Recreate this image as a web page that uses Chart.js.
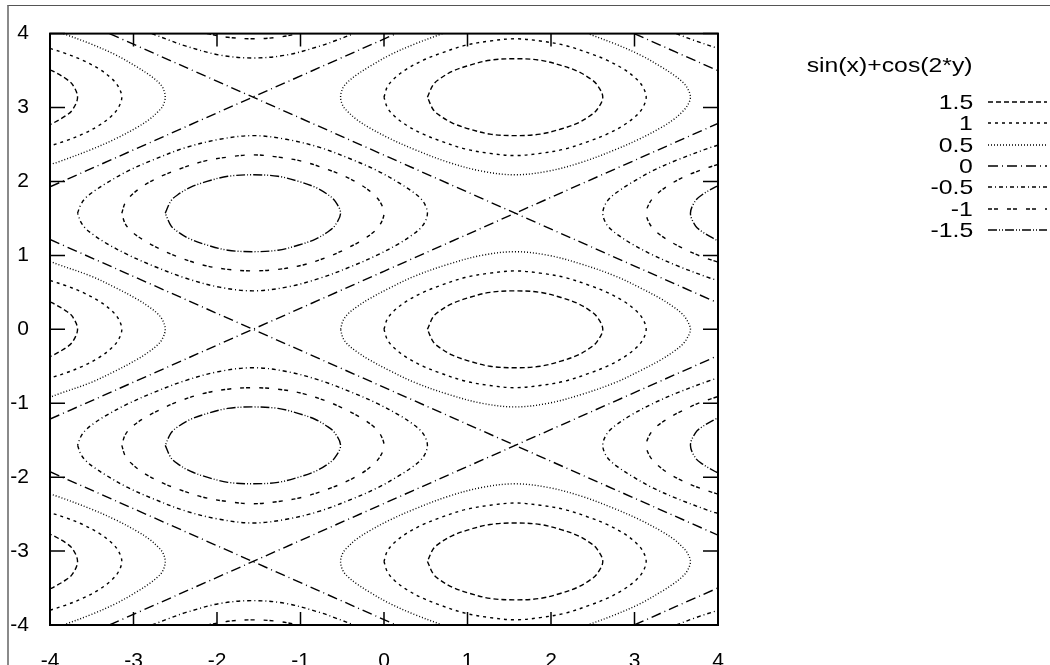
<!DOCTYPE html>
<html><head><meta charset="utf-8">
<script src="https://cdn.jsdelivr.net/npm/chart.js@4.4.1/dist/chart.umd.min.js"></script>
<style>
html,body{margin:0;padding:0;background:#fff;}
#wrap{position:relative;width:1050px;height:665px;overflow:hidden;}
#frame{position:absolute;left:7px;top:5px;right:-10px;bottom:-10px;border-left:2px solid #8a8a8a;border-top:1px solid #555;}
#c{position:absolute;left:0;top:0;}
.lg{position:absolute;right:77px;font-family:'Liberation Sans',Arial,sans-serif;font-size:21px;line-height:24px;height:24px;color:#000;white-space:nowrap;transform:scaleX(1.18);transform-origin:right center;}
svg.s{position:absolute;left:988px;width:60px;height:2px;overflow:visible;}
</style></head>
<body>
<div id="wrap">
<div id="frame"></div>
<canvas id="c" width="1050" height="665"></canvas>
<div id="legend"></div>
</div>
<script>
// ---- data ----
const legendTitle = 'sin(x)+cos(2*y)';
const levels = [1.5, 1, 0.5, 0, -0.5, -1, -1.5];
const xTicks = [-4, -3, -2, -1, 0, 1, 2, 3, 4];
const yTicks = [-4, -3, -2, -1, 0, 1, 2, 3, 4];

// contour pieces for each level, as [x, y] pairs
const c15 = [
 [[0.52,0],[0.59,0.17],[0.67,0.25],[0.82,0.35],[1.02,0.43],[1.27,0.5],[1.57,0.52],[1.87,0.5],[2.12,0.43],[2.32,0.35],[2.47,0.25],[2.55,0.17],[2.62,0],[2.55,-0.17],[2.47,-0.25],[2.32,-0.35],[2.12,-0.43],[1.87,-0.5],[1.57,-0.52],[1.27,-0.5],[1.02,-0.43],[0.82,-0.35],[0.67,-0.25],[0.59,-0.17],[0.52,0]],
 [[0.52,3.14],[0.59,3.31],[0.67,3.39],[0.82,3.49],[1.02,3.57],[1.27,3.64],[1.57,3.66],[1.87,3.64],[2.12,3.57],[2.32,3.49],[2.47,3.39],[2.55,3.31],[2.62,3.14],[2.55,2.97],[2.47,2.89],[2.32,2.79],[2.12,2.71],[1.87,2.64],[1.57,2.62],[1.27,2.64],[1.02,2.71],[0.82,2.79],[0.67,2.89],[0.59,2.97],[0.52,3.14]],
 [[0.52,-3.14],[0.59,-3.31],[0.67,-3.39],[0.82,-3.49],[1.02,-3.57],[1.27,-3.64],[1.57,-3.66],[1.87,-3.64],[2.12,-3.57],[2.32,-3.49],[2.47,-3.39],[2.55,-3.31],[2.62,-3.14],[2.55,-2.97],[2.47,-2.89],[2.32,-2.79],[2.12,-2.71],[1.87,-2.64],[1.57,-2.62],[1.27,-2.64],[1.02,-2.71],[0.82,-2.79],[0.67,-2.89],[0.59,-2.97],[0.52,-3.14]],
 [[-4,0.37],[-3.96,0.35],[-3.81,0.25],[-3.73,0.17],[-3.67,0],[-3.73,-0.17],[-3.81,-0.25],[-3.96,-0.35],[-4,-0.37]],
 [[-4,3.51],[-3.96,3.49],[-3.81,3.39],[-3.73,3.31],[-3.67,3.14],[-3.73,2.97],[-3.81,2.89],[-3.96,2.79],[-4,2.77]],
 [[-4,-3.51],[-3.96,-3.49],[-3.81,-3.39],[-3.73,-3.31],[-3.67,-3.14],[-3.73,-2.97],[-3.81,-2.89],[-3.96,-2.79],[-4,-2.77]]
];
const c10 = [
 [[0,0],[0.04,0.14],[0.12,0.25],[0.27,0.38],[0.47,0.5],[0.67,0.59],[0.97,0.7],[1.27,0.76],[1.57,0.79],[1.87,0.76],[2.17,0.7],[2.47,0.59],[2.67,0.5],[2.87,0.38],[3.02,0.25],[3.1,0.14],[3.14,0],[3.1,-0.14],[3.02,-0.25],[2.87,-0.38],[2.67,-0.5],[2.47,-0.59],[2.17,-0.7],[1.87,-0.76],[1.57,-0.79],[1.27,-0.76],[0.97,-0.7],[0.67,-0.59],[0.47,-0.5],[0.27,-0.38],[0.12,-0.25],[0.04,-0.14],[0,0]],
 [[0,3.14],[0.04,3.28],[0.12,3.39],[0.27,3.52],[0.47,3.64],[0.67,3.73],[0.97,3.84],[1.27,3.9],[1.57,3.93],[1.87,3.9],[2.17,3.84],[2.47,3.73],[2.67,3.64],[2.87,3.52],[3.02,3.39],[3.1,3.28],[3.14,3.14],[3.1,3],[3.02,2.89],[2.87,2.76],[2.67,2.64],[2.47,2.55],[2.17,2.44],[1.87,2.38],[1.57,2.35],[1.27,2.38],[0.97,2.44],[0.67,2.55],[0.47,2.64],[0.27,2.76],[0.12,2.89],[0.04,3],[0,3.14]],
 [[0,-3.14],[0.04,-3.28],[0.12,-3.39],[0.27,-3.52],[0.47,-3.64],[0.67,-3.73],[0.97,-3.84],[1.27,-3.9],[1.57,-3.93],[1.87,-3.9],[2.17,-3.84],[2.47,-3.73],[2.67,-3.64],[2.87,-3.52],[3.02,-3.39],[3.1,-3.28],[3.14,-3.14],[3.1,-3],[3.02,-2.89],[2.87,-2.76],[2.67,-2.64],[2.47,-2.55],[2.17,-2.44],[1.87,-2.38],[1.57,-2.35],[1.27,-2.38],[0.97,-2.44],[0.67,-2.55],[0.47,-2.64],[0.27,-2.76],[0.12,-2.89],[0.04,-3],[0,-3.14]],
 [[-4,0.66],[-3.81,0.59],[-3.61,0.5],[-3.41,0.38],[-3.26,0.25],[-3.18,0.14],[-3.14,0],[-3.18,-0.14],[-3.26,-0.25],[-3.41,-0.38],[-3.61,-0.5],[-3.81,-0.59],[-4,-0.66]],
 [[-4,3.8],[-3.81,3.73],[-3.61,3.64],[-3.41,3.52],[-3.26,3.39],[-3.18,3.28],[-3.14,3.14],[-3.18,3],[-3.26,2.89],[-3.41,2.76],[-3.61,2.64],[-3.81,2.55],[-4,2.48]],
 [[-4,-3.8],[-3.81,-3.73],[-3.61,-3.64],[-3.41,-3.52],[-3.26,-3.39],[-3.18,-3.28],[-3.14,-3.14],[-3.18,-3],[-3.26,-2.89],[-3.41,-2.76],[-3.61,-2.64],[-3.81,-2.55],[-4,-2.48]]
];
const c05 = [
 [[-0.52,0],[-0.49,0.12],[-0.43,0.21],[-0.33,0.3],[-0.18,0.41],[0.07,0.56],[0.37,0.72],[0.77,0.88],[1.17,1],[1.57,1.05],[1.97,1],[2.37,0.88],[2.77,0.72],[3.07,0.56],[3.32,0.41],[3.47,0.3],[3.57,0.21],[3.63,0.12],[3.67,0],[3.63,-0.12],[3.57,-0.21],[3.47,-0.3],[3.32,-0.41],[3.07,-0.56],[2.77,-0.72],[2.37,-0.88],[1.97,-1],[1.57,-1.05],[1.17,-1],[0.77,-0.88],[0.37,-0.72],[0.07,-0.56],[-0.18,-0.41],[-0.33,-0.3],[-0.43,-0.21],[-0.49,-0.12],[-0.52,0]],
 [[0.7,4],[0.37,3.86],[0.07,3.71],[-0.18,3.55],[-0.33,3.44],[-0.43,3.35],[-0.49,3.27],[-0.52,3.14],[-0.49,3.02],[-0.43,2.94],[-0.33,2.84],[-0.18,2.73],[0.07,2.58],[0.37,2.43],[0.77,2.26],[1.17,2.14],[1.57,2.09],[1.97,2.14],[2.37,2.26],[2.77,2.43],[3.07,2.58],[3.32,2.73],[3.47,2.84],[3.57,2.94],[3.63,3.02],[3.67,3.14],[3.63,3.27],[3.57,3.35],[3.47,3.44],[3.32,3.55],[3.07,3.71],[2.77,3.86],[2.44,4]],
 [[0.7,-4],[0.37,-3.86],[0.07,-3.71],[-0.18,-3.55],[-0.33,-3.44],[-0.43,-3.35],[-0.49,-3.27],[-0.52,-3.14],[-0.49,-3.02],[-0.43,-2.94],[-0.33,-2.84],[-0.18,-2.73],[0.07,-2.58],[0.37,-2.43],[0.77,-2.26],[1.17,-2.14],[1.57,-2.09],[1.97,-2.14],[2.37,-2.26],[2.77,-2.43],[3.07,-2.58],[3.32,-2.73],[3.47,-2.84],[3.57,-2.94],[3.63,-3.02],[3.67,-3.14],[3.63,-3.27],[3.57,-3.35],[3.47,-3.44],[3.32,-3.55],[3.07,-3.71],[2.77,-3.86],[2.44,-4]],
 [[-4,0.92],[-3.91,0.88],[-3.51,0.72],[-3.21,0.56],[-2.96,0.41],[-2.81,0.3],[-2.71,0.21],[-2.65,0.12],[-2.62,0],[-2.65,-0.12],[-2.71,-0.21],[-2.81,-0.3],[-2.96,-0.41],[-3.21,-0.56],[-3.51,-0.72],[-3.91,-0.88],[-4,-0.92]],
 [[-3.84,4],[-3.51,3.86],[-3.21,3.71],[-2.96,3.55],[-2.81,3.44],[-2.71,3.35],[-2.65,3.27],[-2.62,3.14],[-2.65,3.02],[-2.71,2.94],[-2.81,2.84],[-2.96,2.73],[-3.21,2.58],[-3.51,2.43],[-3.91,2.26],[-4,2.23]],
 [[-3.84,-4],[-3.51,-3.86],[-3.21,-3.71],[-2.96,-3.55],[-2.81,-3.44],[-2.71,-3.35],[-2.65,-3.27],[-2.62,-3.14],[-2.65,-3.02],[-2.71,-2.94],[-2.81,-2.84],[-2.96,-2.73],[-3.21,-2.58],[-3.51,-2.43],[-3.91,-2.26],[-4,-2.23]]
];
const c00 = [
 [[-4,-1.215],[4,2.785]],
 [[-4,1.927],[0.146,4]],
 [[-3.288,-4],[4,-0.356]],
 [[2.996,-4],[4,-3.498]],
 [[-4,1.215],[4,-2.785]],
 [[-3.288,4],[4,0.356]],
 [[2.996,4],[4,3.498]],
 [[-4,-1.927],[0.146,-4]]
];
const cm05 = [
 [[-3.67,1.57],[-3.63,1.69],[-3.57,1.78],[-3.47,1.87],[-3.32,1.98],[-3.07,2.14],[-2.77,2.29],[-2.37,2.46],[-1.97,2.57],[-1.57,2.62],[-1.17,2.57],[-0.77,2.46],[-0.37,2.29],[-0.07,2.14],[0.18,1.98],[0.33,1.87],[0.43,1.78],[0.49,1.69],[0.52,1.57],[0.49,1.45],[0.43,1.36],[0.33,1.27],[0.18,1.16],[-0.07,1.01],[-0.37,0.86],[-0.77,0.69],[-1.17,0.57],[-1.57,0.52],[-1.97,0.57],[-2.37,0.69],[-2.77,0.86],[-3.07,1.01],[-3.32,1.16],[-3.47,1.27],[-3.57,1.36],[-3.63,1.45],[-3.67,1.57]],
 [[-3.67,-1.57],[-3.63,-1.69],[-3.57,-1.78],[-3.47,-1.87],[-3.32,-1.98],[-3.07,-2.14],[-2.77,-2.29],[-2.37,-2.46],[-1.97,-2.57],[-1.57,-2.62],[-1.17,-2.57],[-0.77,-2.46],[-0.37,-2.29],[-0.07,-2.14],[0.18,-1.98],[0.33,-1.87],[0.43,-1.78],[0.49,-1.69],[0.52,-1.57],[0.49,-1.45],[0.43,-1.36],[0.33,-1.27],[0.18,-1.16],[-0.07,-1.01],[-0.37,-0.86],[-0.77,-0.69],[-1.17,-0.57],[-1.57,-0.52],[-1.97,-0.57],[-2.37,-0.69],[-2.77,-0.86],[-3.07,-1.01],[-3.32,-1.16],[-3.47,-1.27],[-3.57,-1.36],[-3.63,-1.45],[-3.67,-1.57]],
 [[-2.78,4],[-2.57,3.91],[-2.37,3.83],[-1.97,3.71],[-1.57,3.67],[-1.17,3.71],[-0.77,3.83],[-0.57,3.91],[-0.36,4]],
 [[-2.78,-4],[-2.57,-3.91],[-2.37,-3.83],[-1.97,-3.71],[-1.57,-3.67],[-1.17,-3.71],[-0.77,-3.83],[-0.57,-3.91],[-0.36,-4]],
 [[4,2.49],[3.91,2.46],[3.51,2.29],[3.21,2.14],[2.96,1.98],[2.81,1.87],[2.71,1.78],[2.65,1.69],[2.62,1.57],[2.65,1.45],[2.71,1.36],[2.81,1.27],[2.96,1.16],[3.21,1.01],[3.51,0.86],[3.91,0.69],[4,0.66]],
 [[4,-2.49],[3.91,-2.46],[3.51,-2.29],[3.21,-2.14],[2.96,-1.98],[2.81,-1.87],[2.71,-1.78],[2.65,-1.69],[2.62,-1.57],[2.65,-1.45],[2.71,-1.36],[2.81,-1.27],[2.96,-1.16],[3.21,-1.01],[3.51,-0.86],[3.91,-0.69],[4,-0.66]],
 [[3.5,4],[3.71,3.91],[4,3.8]],
 [[3.5,-4],[3.71,-3.91],[4,-3.8]]
];
const cm10 = [
 [[-3.14,1.57],[-3.1,1.71],[-3.02,1.82],[-2.87,1.95],[-2.67,2.07],[-2.47,2.16],[-2.17,2.27],[-1.87,2.33],[-1.57,2.36],[-1.27,2.33],[-0.97,2.27],[-0.67,2.16],[-0.47,2.07],[-0.27,1.95],[-0.12,1.82],[-0.04,1.71],[0,1.57],[-0.04,1.43],[-0.12,1.32],[-0.27,1.2],[-0.47,1.08],[-0.67,0.98],[-0.97,0.87],[-1.27,0.81],[-1.57,0.79],[-1.87,0.81],[-2.17,0.87],[-2.47,0.98],[-2.67,1.08],[-2.87,1.2],[-3.02,1.32],[-3.1,1.43],[-3.14,1.57]],
 [[-3.14,-1.57],[-3.1,-1.71],[-3.02,-1.82],[-2.87,-1.95],[-2.67,-2.07],[-2.47,-2.16],[-2.17,-2.27],[-1.87,-2.33],[-1.57,-2.36],[-1.27,-2.33],[-0.97,-2.27],[-0.67,-2.16],[-0.47,-2.07],[-0.27,-1.95],[-0.12,-1.82],[-0.04,-1.71],[0,-1.57],[-0.04,-1.43],[-0.12,-1.32],[-0.27,-1.2],[-0.47,-1.08],[-0.67,-0.98],[-0.97,-0.87],[-1.27,-0.81],[-1.57,-0.79],[-1.87,-0.81],[-2.17,-0.87],[-2.47,-0.98],[-2.67,-1.08],[-2.87,-1.2],[-3.02,-1.32],[-3.1,-1.43],[-3.14,-1.57]],
 [[-2.12,4],[-1.87,3.95],[-1.57,3.93],[-1.27,3.95],[-1.02,4]],
 [[-2.12,-4],[-1.87,-3.95],[-1.57,-3.93],[-1.27,-3.95],[-1.02,-4]],
 [[4,2.23],[3.81,2.16],[3.61,2.07],[3.41,1.95],[3.26,1.82],[3.18,1.71],[3.14,1.57],[3.18,1.43],[3.26,1.32],[3.41,1.2],[3.61,1.08],[3.81,0.98],[4,0.91]],
 [[4,-2.23],[3.81,-2.16],[3.61,-2.07],[3.41,-1.95],[3.26,-1.82],[3.18,-1.71],[3.14,-1.57],[3.18,-1.43],[3.26,-1.32],[3.41,-1.2],[3.61,-1.08],[3.81,-0.98],[4,-0.91]]
];
const cm15 = [
 [[-2.62,1.57],[-2.55,1.74],[-2.47,1.82],[-2.32,1.92],[-2.12,2],[-1.87,2.07],[-1.57,2.09],[-1.27,2.07],[-1.02,2],[-0.82,1.92],[-0.67,1.82],[-0.59,1.74],[-0.52,1.57],[-0.59,1.4],[-0.67,1.32],[-0.82,1.22],[-1.02,1.14],[-1.27,1.07],[-1.57,1.05],[-1.87,1.07],[-2.12,1.14],[-2.32,1.22],[-2.47,1.32],[-2.55,1.4],[-2.62,1.57]],
 [[-2.62,-1.57],[-2.55,-1.74],[-2.47,-1.82],[-2.32,-1.92],[-2.12,-2],[-1.87,-2.07],[-1.57,-2.09],[-1.27,-2.07],[-1.02,-2],[-0.82,-1.92],[-0.67,-1.82],[-0.59,-1.74],[-0.52,-1.57],[-0.59,-1.4],[-0.67,-1.32],[-0.82,-1.22],[-1.02,-1.14],[-1.27,-1.07],[-1.57,-1.05],[-1.87,-1.07],[-2.12,-1.14],[-2.32,-1.22],[-2.47,-1.32],[-2.55,-1.4],[-2.62,-1.57]],
 [[4,1.94],[3.96,1.92],[3.81,1.82],[3.73,1.74],[3.67,1.57],[3.73,1.4],[3.81,1.32],[3.96,1.22],[4,1.2]],
 [[4,-1.94],[3.96,-1.92],[3.81,-1.82],[3.73,-1.74],[3.67,-1.57],[3.73,-1.4],[3.81,-1.32],[3.96,-1.22],[4,-1.2]]
];
const piecesByLevel = [c15, c10, c05, c00, cm05, cm10, cm15];

// ---- styles ----
const dashPatterns = [[5,3],[3,4],[1,2],[10,4,1,4],[4,3,1,3],[4,2,4,9],[9,2,1,2,1,2]];
const FONT = "'Liberation Sans', Arial, sans-serif";

function toPoints(pieces){
  const out = [];
  pieces.forEach((p, i) => {
    if (i > 0) out.push({x: null, y: null});
    p.forEach(([x, y]) => out.push({x, y}));
  });
  return out;
}

const boxPlugin = {
  id: 'box',
  afterDraw(chart){
    const {ctx, chartArea: a, scales: {x, y}} = chart;
    ctx.save();
    ctx.setLineDash([]);
    ctx.strokeStyle = '#000';
    ctx.lineWidth = 1.5;
    ctx.beginPath();
    x.ticks.forEach(t => {
      const p = x.getPixelForValue(t.value);
      ctx.moveTo(p, a.bottom); ctx.lineTo(p, a.bottom - 13);
      ctx.moveTo(p, a.top); ctx.lineTo(p, a.top + 13);
    });
    y.ticks.forEach(t => {
      const p = y.getPixelForValue(t.value);
      ctx.moveTo(a.left, p); ctx.lineTo(a.left + 15, p);
      ctx.moveTo(a.right, p); ctx.lineTo(a.right - 15, p);
    });
    ctx.stroke();
    ctx.lineWidth = 2;
    ctx.strokeRect(a.left, a.top, a.right - a.left, a.bottom - a.top);
    ctx.restore();
  }
};

const axisCommon = (ticksArr, pad) => ({
  type: 'linear',
  min: ticksArr[0],
  max: ticksArr[ticksArr.length - 1],
  afterBuildTicks: s => { s.ticks = ticksArr.map(v => ({value: v})); },
  ticks: { color: '#000', font: {family: FONT, size: 21}, padding: pad, autoSkip: false, maxRotation: 0,
           callback: v => String(v) },
  grid: { display: false, drawTicks: false },
  border: { display: false }
});

const xAxis = axisCommon(xTicks, 24);
xAxis.afterFit = s => { s.height = 40; };
const yAxis = axisCommon(yTicks, 21);
yAxis.afterFit = s => { s.width = 50; };

new Chart(document.getElementById('c'), {
  type: 'scatter',
  data: {
    datasets: levels.map((lv, i) => ({
      label: String(lv),
      data: toPoints(piecesByLevel[i]),
      showLine: true,
      spanGaps: false,
      borderColor: '#000',
      borderWidth: 1.4,
      borderDash: dashPatterns[i],
      pointRadius: 0,
      pointHoverRadius: 0,
      tension: 0.35,
      fill: false
    }))
  },
  options: {
    responsive: false,
    animation: false,
    devicePixelRatio: 1,
    layout: { padding: { left: 0, top: 17, right: 332, bottom: 0 } },
    scales: { x: xAxis, y: yAxis },
    plugins: { legend: { display: false }, tooltip: { enabled: false } }
  },
  plugins: [boxPlugin]
});

// ---- legend (HTML text) ----
const lg = document.getElementById('legend');
const title = document.createElement('div');
title.className = 'lg';
title.style.top = (65 - 12) + 'px';
title.textContent = legendTitle;
lg.appendChild(title);
levels.forEach((lv, i) => {
  const cy = 101.7 + i * 21.4;
  const d = document.createElement('div');
  d.className = 'lg';
  d.style.top = (cy - 12) + 'px';
  d.textContent = String(lv);
  lg.appendChild(d);
  const ns = 'http://www.w3.org/2000/svg';
  const svg = document.createElementNS(ns, 'svg');
  svg.setAttribute('class', 's');
  svg.style.top = (cy - 1) + 'px';
  const ln = document.createElementNS(ns, 'line');
  ln.setAttribute('x1', '0'); ln.setAttribute('y1', '1');
  ln.setAttribute('x2', '59'); ln.setAttribute('y2', '1');
  ln.setAttribute('stroke', '#000');
  ln.setAttribute('stroke-width', '1.3');
  ln.setAttribute('stroke-dasharray', dashPatterns[i].join(' '));
  svg.appendChild(ln);
  lg.appendChild(svg);
});
</script>
</body></html>
